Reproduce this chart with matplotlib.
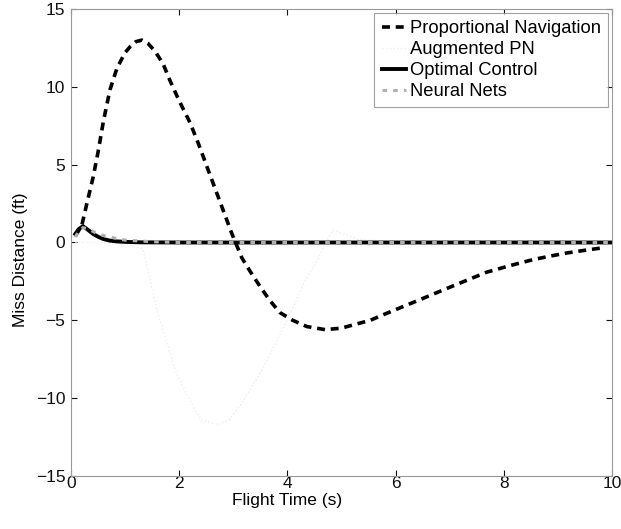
import matplotlib
matplotlib.use("Agg")
import matplotlib.pyplot as plt

plt.rcParams['font.family'] = ['Liberation Sans', 'DejaVu Sans']

# Proportional Navigation
t_pn = [0.08, 0.2, 0.3, 0.41, 0.5, 0.6, 0.72, 0.85, 1.0, 1.1, 1.2, 1.31, 1.42, 1.55, 1.7, 1.83,
        2.0, 2.2, 2.35, 2.51, 2.66, 2.81, 2.97, 3.16, 3.32, 3.49, 3.67, 3.86, 4.1, 4.36, 4.7,
        5.0, 5.21, 5.53, 5.8, 6.08, 6.5, 6.88, 7.3, 7.69, 8.1, 8.54, 8.85, 9.17, 9.5, 9.81]
y_pn = [0.4, 1.1, 2.6, 4.2, 5.8, 7.8, 9.8, 11.2, 12.2, 12.6, 12.9, 13.0, 12.8, 12.3, 11.5, 10.4,
        9.1, 7.7, 6.4, 4.9, 3.5, 2.1, 0.6, -1.0, -1.9, -2.8, -3.7, -4.5, -5.0, -5.4, -5.6,
        -5.5, -5.3, -5.0, -4.6, -4.2, -3.6, -3.05, -2.45, -1.9, -1.5, -1.1, -0.88, -0.67, -0.5, -0.35]

# Augmented PN (very faint in the reference)
t_apn = [0.08, 0.5, 1.0, 1.33, 1.6, 1.94, 2.03, 2.24, 2.4, 2.72, 2.92, 3.12, 3.3, 3.53, 3.94,
         4.36, 4.55, 4.68, 4.84, 5.0, 5.3, 6.0, 10.0]
y_apn = [0.0, 0.0, -0.1, -0.4, -4.5, -8.3, -9.0, -10.4, -11.4, -11.7, -11.4, -10.5, -9.5, -8.2, -5.4,
         -2.2, -1.2, -0.2, 0.8, 0.6, 0.2, 0.05, 0.0]

# Optimal Control
t_oc = [0.08, 0.14, 0.22, 0.3, 0.41, 0.5, 0.6, 0.72, 0.85, 1.0, 1.3, 2.0, 10.0]
y_oc = [0.55, 0.85, 1.05, 0.85, 0.55, 0.37, 0.22, 0.12, 0.07, 0.04, 0.01, 0.0, 0.0]

# Neural Nets
t_nn = [0.08, 0.14, 0.22, 0.3, 0.41, 0.5, 0.6, 0.72, 0.85, 1.0, 1.5, 2.0, 10.0]
y_nn = [0.35, 0.7, 0.95, 0.9, 0.7, 0.55, 0.45, 0.35, 0.25, 0.15, 0.05, 0.0, 0.0]

xticks = [0, 2, 4, 6, 8, 10]
yticks = [-15, -10, -5, 0, 5, 10, 15]
ytick_labels = ['\u221215', '\u221210', '\u22125', '0', '5', '10', '15']

fig = plt.figure(figsize=(6.21, 5.29), dpi=100)
ax = fig.add_axes([0.1143, 0.1002, 0.8712, 0.8828])

ax.plot(t_pn, y_pn, color='black', linestyle=(0, (2.2, 1.6)), linewidth=2.6, label='Proportional Navigation')
ax.plot(t_apn, y_apn, color='#eeeeee', linestyle=':', linewidth=1.0, label='Augmented PN')
ax.plot(t_oc, y_oc, color='black', linestyle='-', linewidth=2.8, label='Optimal Control')
ax.plot(t_nn, y_nn, color='#b0b0b0', linestyle=(0, (1.5, 2.0)), linewidth=2.2, label='Neural Nets')

ax.set_xlim(0, 10)
ax.set_ylim(-15, 15)
ax.set_xticks(xticks)
ax.set_yticks(yticks)
ax.set_yticklabels(ytick_labels)
ax.tick_params(direction='in', top=True, right=True, length=4, labelsize=12.5, colors='#111111')
ax.tick_params(axis='x', pad=0)
ax.tick_params(axis='y', pad=4)
for s in ax.spines.values():
    s.set_color('#999999')
    s.set_linewidth(0.8)

ax.set_xlabel('Flight Time (s)', fontsize=12.5)
ax.xaxis.set_label_coords(0.40, -0.036, transform=ax.transAxes)
ax.xaxis.label.set_va('top')
ax.set_ylabel('Miss Distance (ft)', fontsize=12.5)
ax.yaxis.set_label_coords(-0.093, 0.4625, transform=ax.transAxes)
ax.yaxis.label.set_va('center')

leg = ax.legend(loc='upper right', fontsize=13.2, frameon=True, fancybox=False,
                handlelength=1.35, handletextpad=0.2, borderpad=0.4, labelspacing=0.22,
                borderaxespad=0.2)
leg.get_frame().set_edgecolor('#888888')
leg.get_frame().set_linewidth(0.8)

fig.savefig('out.png', dpi=100)
